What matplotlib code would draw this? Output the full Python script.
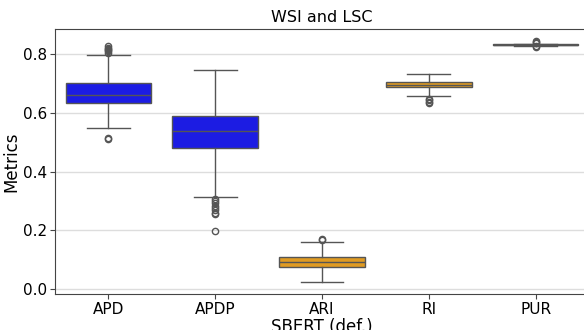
import matplotlib
matplotlib.use('Agg')
import matplotlib.pyplot as plt

metrics = ['APD', 'APDP', 'ARI', 'RI', 'PUR']
q1      = [0.634, 0.480, 0.076, 0.687, 0.8320]
median  = [0.660, 0.540, 0.091, 0.697, 0.8330]
q3      = [0.701, 0.590, 0.110, 0.705, 0.8340]
whislo  = [0.548, 0.313, 0.024, 0.658, 0.8300]
whishi  = [0.797, 0.746, 0.161, 0.734, 0.8360]
fliers  = [
    [0.806, 0.810, 0.814, 0.818, 0.823, 0.828, 0.514, 0.511],
    [0.307, 0.300, 0.292, 0.284, 0.276, 0.268, 0.260, 0.254, 0.197],
    [0.170, 0.167],
    [0.649, 0.644, 0.639, 0.635],
    [0.845, 0.842, 0.839, 0.828, 0.826],
]
colors = ['#1c1ce3', '#1c1ce3', '#e09b23', '#e09b23', '#e09b23']

stats = []
for i in range(len(metrics)):
    stats.append(dict(q1=q1[i], med=median[i], q3=q3[i],
                      whislo=whislo[i], whishi=whishi[i], fliers=fliers[i]))

fig = plt.figure(figsize=(5.84, 3.30), dpi=100)
ax = fig.add_axes([55 / 584, 36 / 330, 534 / 584, 265.5 / 330])

line = dict(color='#555555', linewidth=1)
bp = ax.bxp(stats, positions=range(len(metrics)), widths=0.8, patch_artist=True,
            boxprops=dict(edgecolor='#555555', linewidth=1),
            medianprops=line, whiskerprops=line, capprops=line,
            flierprops=dict(marker='o', markersize=4.5, markerfacecolor='none',
                            markeredgecolor='#555555', markeredgewidth=1))
for patch, c in zip(bp['boxes'], colors):
    patch.set_facecolor(c)

ax.set_xlim(-0.5, len(metrics) - 0.5)
ax.set_ylim(-0.017, 0.888)
ax.set_yticks([0.0, 0.2, 0.4, 0.6, 0.8])
ax.set_xticks(range(len(metrics)))
ax.set_xticklabels(metrics)
ax.grid(axis='y', color='#dddddd', linewidth=1)
ax.set_axisbelow(True)
for s in ax.spines.values():
    s.set_color('#444444')
ax.tick_params(labelsize=11, color='#444444', pad=2)
ax.set_xlabel('SBERT (def.)', fontsize=12, labelpad=1)
ax.set_ylabel('Metrics', fontsize=12, labelpad=2)
ax.set_title('WSI and LSC', fontsize=11.5, pad=5)

fig.savefig('out.png', dpi=100)
